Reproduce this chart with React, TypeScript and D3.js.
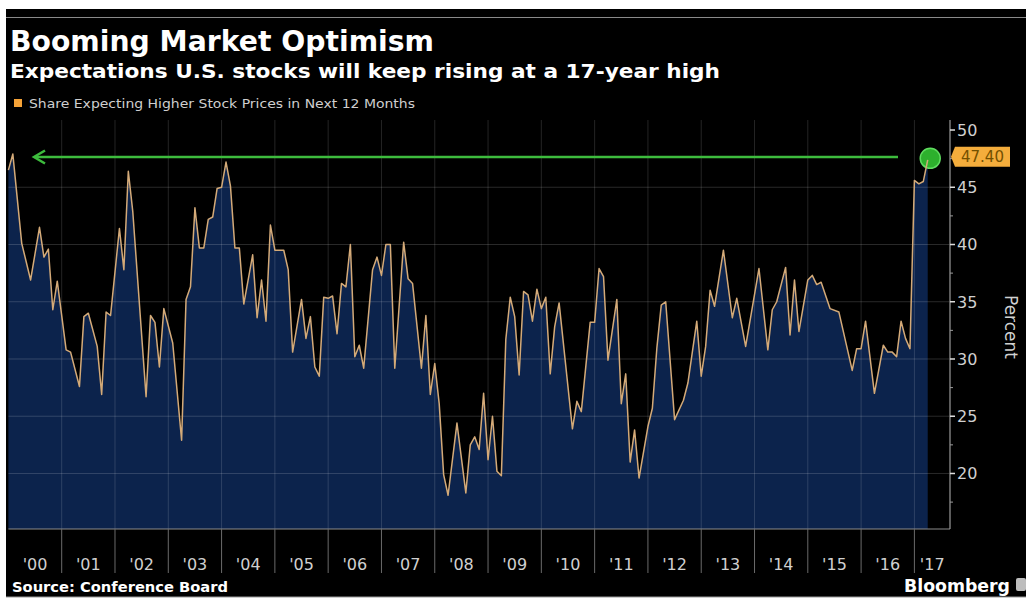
import React from "react";
import * as d3 from "d3";

const title = "Booming Market Optimism";
const subtitle = "Expectations U.S. stocks will keep rising at a 17-year high";
const legendLabel = "Share Expecting Higher Stock Prices in Next 12 Months";
const sourceText = "Source: Conference Board";
const brandText = "Bloomberg";
const axisTitle = "Percent";

const months: string[] = [
  "2000-01","2000-02","2000-04","2000-06","2000-08","2000-09","2000-10","2000-11","2000-12",
  "2001-02","2001-03","2001-05","2001-06","2001-07","2001-09","2001-10","2001-11","2001-12",
  "2002-02","2002-03","2002-04","2002-05","2002-08","2002-09","2002-10","2002-11","2002-12",
  "2003-02","2003-04","2003-05","2003-06","2003-07","2003-08","2003-09","2003-10","2003-11","2003-12",
  "2004-01","2004-02","2004-03","2004-04","2004-05","2004-06","2004-08","2004-09","2004-10","2004-11","2004-12",
  "2005-01","2005-03","2005-04","2005-05","2005-07","2005-08","2005-09","2005-10","2005-11","2005-12",
  "2006-01","2006-02","2006-03","2006-04","2006-05","2006-06","2006-07","2006-08","2006-09","2006-11","2006-12",
  "2007-01","2007-02","2007-03","2007-04","2007-06","2007-07","2007-08","2007-10","2007-11","2007-12",
  "2008-01","2008-02","2008-03","2008-04","2008-06","2008-08","2008-09","2008-10","2008-11","2008-12",
  "2009-01","2009-02","2009-03","2009-04","2009-05","2009-06","2009-07","2009-08","2009-09","2009-10","2009-11","2009-12",
  "2010-01","2010-02","2010-03","2010-04","2010-05","2010-08","2010-09","2010-10","2010-12",
  "2011-01","2011-02","2011-03","2011-04","2011-06","2011-07","2011-08","2011-09","2011-10","2011-11",
  "2012-01","2012-02","2012-03","2012-04","2012-05","2012-07","2012-09","2012-10","2012-12",
  "2013-01","2013-02","2013-03","2013-04","2013-06","2013-08","2013-09","2013-11",
  "2014-02","2014-04","2014-05","2014-06","2014-08","2014-09","2014-10","2014-11",
  "2015-01","2015-02","2015-03","2015-04","2015-06","2015-08","2015-11","2015-12",
  "2016-01","2016-02","2016-04","2016-06","2016-07","2016-08","2016-09","2016-10","2016-11","2016-12",
  "2017-01","2017-02","2017-03","2017-04",
];

const shareValues: number[] = [
  46.5,47.9,40.1,36.9,41.5,38.9,39.6,34.3,36.8,
  30.8,30.6,27.6,33.7,34.0,31.1,26.9,34.1,33.8,
  41.4,37.8,46.4,42.9,26.7,33.8,33.2,29.3,34.4,
  31.4,22.9,35.2,36.3,43.2,39.7,39.7,42.2,42.4,44.9,
  45.0,47.2,45.1,39.7,39.7,34.8,39.1,33.6,36.9,33.3,41.7,
  39.5,39.5,37.8,30.6,35.2,31.8,33.7,29.3,28.5,35.4,
  35.3,35.5,32.2,36.6,36.3,40.0,30.2,31.2,29.2,37.8,38.9,
  37.3,40.0,40.0,29.2,40.2,37.0,36.6,29.2,33.8,26.9,
  29.6,26.1,19.9,18.1,24.4,18.3,22.5,23.2,22.1,27.0,
  21.2,25.0,20.2,19.8,31.7,35.4,33.7,28.6,35.9,35.6,33.3,36.1,
  34.4,35.4,28.7,32.8,34.9,23.9,26.3,25.4,33.2,
  33.2,37.9,37.2,29.9,35.2,26.1,28.7,21.0,23.8,19.6,
  24.1,25.7,30.9,34.7,35.0,24.7,26.4,27.9,33.3,
  28.5,31.1,36.0,34.6,39.5,33.6,35.3,31.1,
  37.9,30.8,34.3,35.0,38.0,32.1,36.9,32.4,
  36.9,37.3,36.5,36.7,34.4,34.1,29.0,30.9,
  30.9,33.3,27.0,31.2,30.6,30.6,30.2,33.3,31.8,30.9,
  45.6,45.3,45.5,47.4,
];

const yearLabels: string[] = ["'00","'01","'02","'03","'04","'05","'06","'07","'08","'09","'10","'11","'12","'13","'14","'15","'16","'17"];
const yTicks: number[] = [20, 25, 30, 35, 40, 45, 50];
const yMinorTicks: number[] = [17.5, 22.5, 27.5, 32.5, 37.5, 42.5, 47.5];
const lastValueLabel = "47.40";

const W = 1026;
const H = 601;
const plotLeft = 8.4;
const axisX = 950;
const plotTop = 120;
const plotBottom = 529;

export default function App() {
  const toT = (s: string) => {
    const [y, m] = s.split("-").map(Number);
    return y + (m - 1) / 12;
  };
  const data = months.map((m, i) => ({ t: toT(m), v: shareValues[i] }));

  const x = d3.scaleLinear().domain([2000, 2017.668]).range([plotLeft, axisX]);
  const y = d3.scaleLinear().domain([15.15, 50.7]).range([plotBottom, 122]);

  const area = d3
    .area<{ t: number; v: number }>()
    .x((d) => x(d.t))
    .y0(plotBottom)
    .y1((d) => y(d.v));
  const line = d3
    .line<{ t: number; v: number }>()
    .x((d) => x(d.t))
    .y((d) => y(d.v));

  const last = data[data.length - 1];
  const lx = x(last.t);
  const ly = y(last.v);

  const yearStarts = yearLabels.map((_, i) => 2000 + i);
  const font = "'DejaVu Sans', Verdana, sans-serif";
  const arrowY = 157;

  return (
    <svg
      width={W}
      height={H}
      style={{ position: "absolute", left: 0, top: 0, display: "block" }}
    >
      <rect x={0} y={0} width={W} height={H} fill="#ffffff" />
      <rect x={6} y={9} width={W - 6} height={588} fill="#000000" />
      <line x1={6} x2={W} y1={17.5} y2={17.5} stroke="#8a8a8a" strokeWidth={1.2} />
      <line x1={6} x2={W} y1={597} y2={597} stroke="#9a9a9a" strokeWidth={1} />

      <text x={10} y={51} fill="#ffffff" fontFamily={font} fontWeight="bold" fontSize={29}
        textLength={424} lengthAdjust="spacingAndGlyphs">{title}</text>
      <text x={10} y={78} fill="#ffffff" fontFamily={font} fontWeight="bold" fontSize={19.5}
        textLength={710} lengthAdjust="spacingAndGlyphs">{subtitle}</text>

      <rect x={14} y={99} width={8} height={8} fill="#f5a338" />
      <text x={29} y={108} fill="#cfcfcf" fontFamily={font} fontSize={12.5}
        textLength={386} lengthAdjust="spacingAndGlyphs">{legendLabel}</text>

      {/* area */}
      <path d={area(data) || ""} fill="#0c234c" />

      {/* grid */}
      {yTicks.filter((v) => v < 50).map((v) => (
        <line key={"hg" + v} x1={plotLeft} x2={axisX} y1={y(v)} y2={y(v)}
          stroke="#ffffff" strokeOpacity={0.16} strokeWidth={1} />
      ))}
      {yearStarts.slice(1).map((yr) => (
        <line key={"vg" + yr} x1={x(yr)} x2={x(yr)} y1={plotTop} y2={plotBottom}
          stroke="#ffffff" strokeOpacity={0.14} strokeWidth={1} />
      ))}

      {/* green arrow */}
      <line x1={35} x2={898} y1={arrowY} y2={arrowY} stroke="#3dbb3d" strokeWidth={2.5} />
      <path d={`M45,${arrowY - 6.5} L34,${arrowY} L45,${arrowY + 6.5}`} fill="none"
        stroke="#3dbb3d" strokeWidth={2.5} />
      <circle cx={lx + 2.5} cy={ly - 1.5} r={10} fill="#2db02d" stroke="#5fdc5f" strokeWidth={1.5} />

      {/* series line */}
      <path d={line(data) || ""} fill="none" stroke="#d4aa78" strokeWidth={1.5} strokeLinejoin="round" />

      {/* bottom axis */}
      <line x1={plotLeft} x2={axisX} y1={plotBottom} y2={plotBottom} stroke="#8c8c8c" strokeWidth={1.2} />
      {yearStarts.slice(1).map((yr) => (
        <line key={"xt" + yr} x1={x(yr)} x2={x(yr)} y1={plotBottom} y2={573}
          stroke="#6a6a6a" strokeWidth={1} />
      ))}
      {yearLabels.map((lab, i) => {
        const a = x(yearStarts[i]);
        const b = Math.min(x(yearStarts[i] + 1), axisX);
        return (
          <text key={lab} x={(a + b) / 2} y={570} textAnchor="middle" fill="#d0d0d0"
            fontFamily={font} fontSize={16}>{lab}</text>
        );
      })}

      {/* right axis */}
      <line x1={axisX} x2={axisX} y1={plotTop} y2={plotBottom} stroke="#9a9a9a" strokeWidth={1.2} />
      {yTicks.map((v) => (
        <g key={"yt" + v}>
          <line x1={axisX} x2={axisX + 5} y1={y(v)} y2={y(v)} stroke="#dddddd" strokeWidth={1.5} />
          <text x={axisX + 7} y={y(v)} dy="0.36em" fill="#d0d0d0" fontFamily={font} fontSize={16}>{v}</text>
        </g>
      ))}
      {yMinorTicks.map((v) => (
        <line key={"ym" + v} x1={axisX} x2={axisX + 3} y1={y(v)} y2={y(v)} stroke="#9a9a9a" strokeWidth={1} />
      ))}
      <text transform={`translate(1005,327) rotate(90)`} textAnchor="middle" fill="#d0d0d0"
        fontFamily={font} fontSize={17}>{axisTitle}</text>

      {/* last value label */}
      <path d={`M951,${ly - 3} L955,${ly - 13} L1010,${ly - 13} L1010,${ly + 7} L955,${ly + 7} Z`}
        fill="#f4ad3c" />
      <text x={982.5} y={ly - 3} dy="0.36em" textAnchor="middle" fill="#735000" fontFamily={font}
        fontSize={15}>{lastValueLabel}</text>

      {/* footer */}
      <text x={12} y={592} fill="#ffffff" fontFamily={font} fontWeight="bold" fontSize={13.5}
        textLength={216} lengthAdjust="spacingAndGlyphs">{sourceText}</text>
      <text x={904} y={592} fill="#ffffff" fontFamily={font} fontWeight="bold" fontSize={17}
        textLength={106} lengthAdjust="spacingAndGlyphs">{brandText}</text>
      <rect x={1016} y={578} width={10} height={13} rx={2} fill="#bdbdbd" />
    </svg>
  );
}
